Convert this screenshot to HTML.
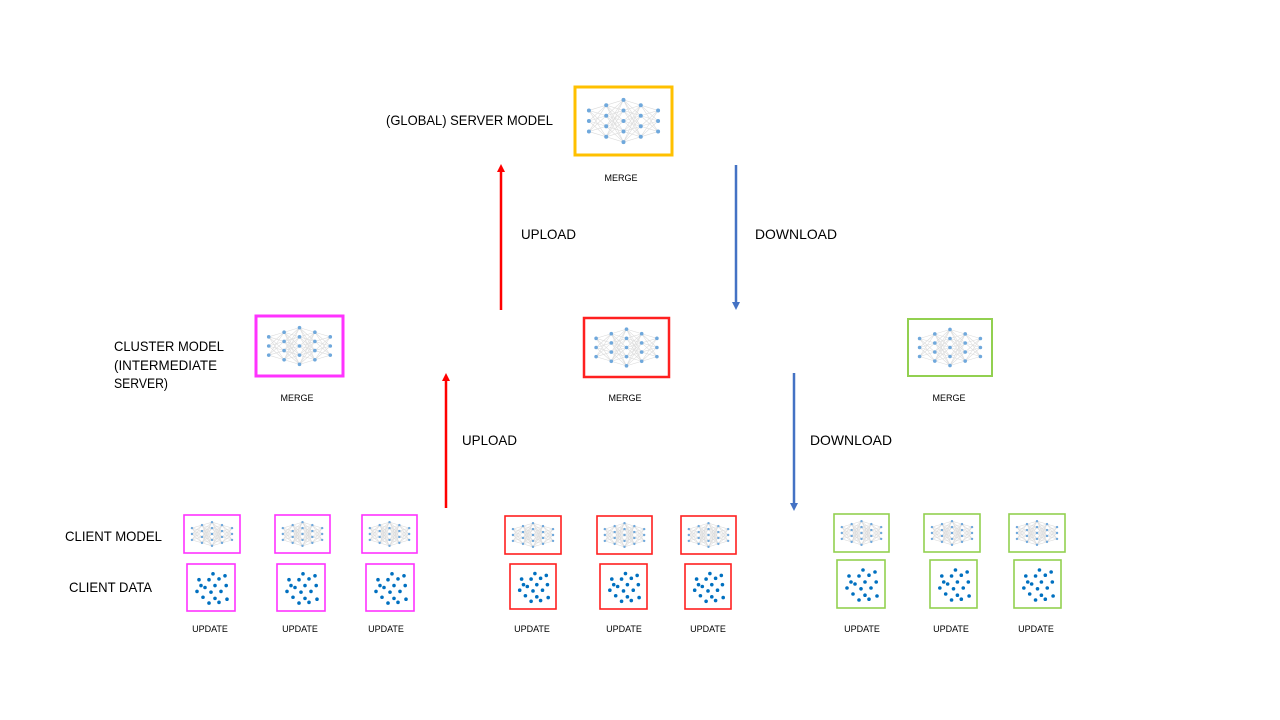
<!DOCTYPE html>
<html><head><meta charset="utf-8"><style>
html,body{margin:0;padding:0;background:#fff;}
svg{display:block;font-family:"Liberation Sans",sans-serif;}
</style></head><body>
<svg id="s" width="1280" height="720" viewBox="0 0 1280 720">
<defs>
<marker id="ar" markerWidth="8" markerHeight="8" refX="4" refY="4" orient="auto" markerUnits="userSpaceOnUse"><path d="M0,0 L8,4 L0,8 z" fill="#ff0000"/></marker>
<marker id="ab" markerWidth="8" markerHeight="8" refX="4" refY="4" orient="auto" markerUnits="userSpaceOnUse"><path d="M0,0 L8,4 L0,8 z" fill="#4472c4"/></marker>
</defs>
<g font-size="14" fill="#000" lengthAdjust="spacingAndGlyphs">
<text x="386" y="125" textLength="167" lengthAdjust="spacingAndGlyphs">(GLOBAL) SERVER MODEL</text>
<text x="114" y="351" textLength="110" lengthAdjust="spacingAndGlyphs">CLUSTER MODEL</text>
<text x="114" y="370" textLength="103" lengthAdjust="spacingAndGlyphs">(INTERMEDIATE</text>
<text x="114" y="388" textLength="54" lengthAdjust="spacingAndGlyphs">SERVER)</text>
<text x="65" y="541" textLength="97" lengthAdjust="spacingAndGlyphs">CLIENT MODEL</text>
<text x="69" y="592" textLength="83" lengthAdjust="spacingAndGlyphs">CLIENT DATA</text>
<text x="521" y="239" textLength="55" lengthAdjust="spacingAndGlyphs">UPLOAD</text>
<text x="755" y="239" textLength="82" lengthAdjust="spacingAndGlyphs">DOWNLOAD</text>
<text x="462" y="445" textLength="55" lengthAdjust="spacingAndGlyphs">UPLOAD</text>
<text x="810" y="445" textLength="82" lengthAdjust="spacingAndGlyphs">DOWNLOAD</text>
</g>
<line x1="501" y1="310" x2="501" y2="168" stroke="#ff0000" stroke-width="2.5" marker-end="url(#ar)"/>
<line x1="736" y1="165" x2="736" y2="306" stroke="#4472c4" stroke-width="2.5" marker-end="url(#ab)"/>
<line x1="446" y1="508" x2="446" y2="377" stroke="#ff0000" stroke-width="2.5" marker-end="url(#ar)"/>
<line x1="794" y1="373" x2="794" y2="507" stroke="#4472c4" stroke-width="2.5" marker-end="url(#ab)"/>
</svg>
<script>
const NS="http://www.w3.org/2000/svg";
const svg=document.getElementById('s');
function mk(t,a,p){const e=document.createElementNS(NS,t);for(const k in a)e.setAttribute(k,a[k]);(p||svg).appendChild(e);return e;}
const layers=[3,4,5,4,3];
function net(g,x,y,w,h,r){
  const pts=layers.map((n,i)=>{const cx=x+w*(0.12+0.76*i/4);const sp=h*0.17;const arr=[];for(let j=0;j<n;j++)arr.push([cx,y+h/2+(j-(n-1)/2)*sp]);return arr;});
  for(let i=0;i<4;i++)for(const a of pts[i])for(const b of pts[i+1])mk('line',{x1:a[0],y1:a[1],x2:b[0],y2:b[1],stroke:'#dcdcdc','stroke-width':0.6},g);
  for(const L of pts)for(const p of L)mk('circle',{cx:p[0],cy:p[1],r:r,fill:'#6fa8dc'},g);
}
const dots=[[.55,.15],[.2,.3],[.45,.3],[.7,.28],[.85,.2],[.6,.45],[.35,.5],[.88,.45],[.15,.6],[.5,.62],[.75,.6],[.3,.75],[.6,.78],[.9,.8],[.45,.9],[.25,.45],[.7,.88]];
function data(g,x,y,w,h){for(const d of dots)mk('circle',{cx:x+4+d[0]*(w-8),cy:y+4+d[1]*(h-8),r:1.8,fill:'#0070c0'},g);}
function box(name,x1,y1,x2,y2,col,sw,kind,r){
  const g=mk('g',{});
  
  
  if(kind==='net')net(g,x1+sw,y1+sw,x2-x1-2*sw,y2-y1-2*sw,r);else data(g,x1,y1,x2-x1,y2-y1);
  mk('rect',{x:x1,y:y1,width:x2-x1,height:y2-y1,fill:'none',stroke:col,'stroke-width':sw},g);
}
function label(t,x,y,name){const e=mk('text',{x:x,y:y,'font-size':9,'text-anchor':'middle'});e.textContent=t;
  
  }
box('server-model-box',575,87,672,155,'#ffc000',3,'net',2);
label('MERGE',621,181,'server-merge-label');
box('cluster-model-magenta',256,316,343,376,'#ff33ff',3,'net',1.8);
box('cluster-model-red',584,318,669,377,'#ff2020',2.5,'net',1.8);
box('cluster-model-green',908,319,992,376,'#92d050',2,'net',1.8);
label('MERGE',297,401,'cluster-merge-magenta');label('MERGE',625,401,'cluster-merge-red');label('MERGE',949,401,'cluster-merge-green');
const clients=[
 ['magenta','#ff33ff',[[184,240,515,553,187,235,564,611,210],[275,330,515,553,277,325,564,611,300],[362,417,515,553,366,414,564,611,386]]],
 ['red','#ff2020',[[505,561,516,554,510,556,564,609,532],[597,652,516,554,600,647,564,609,624],[681,736,516,554,685,731,564,609,708]]],
 ['green','#92d050',[[834,889,514,552,837,885,560,608,862],[924,980,514,552,930,977,560,608,951],[1009,1065,514,552,1014,1061,560,608,1036]]]];
clients.forEach(([n,c,arr])=>arr.forEach((b,i)=>{
  box('client-model-'+n+'-'+(i+1),b[0],b[2],b[1],b[3],c,1.6,'net',1.2);
  box('client-data-'+n+'-'+(i+1),b[4],b[6],b[5],b[7],c,1.6,'data');
  label('UPDATE',b[8],632,'update-label-'+n+'-'+(i+1));
}));
</script>
</body></html>
